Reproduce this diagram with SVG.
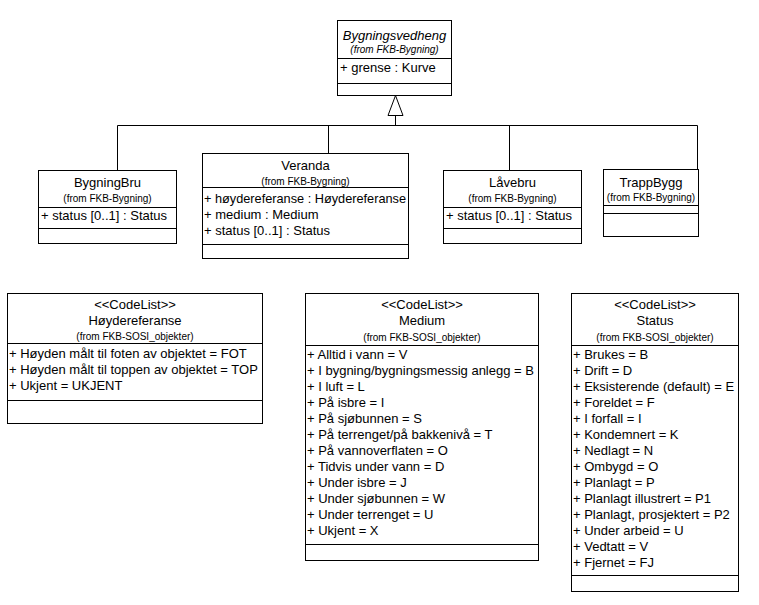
<svg xmlns="http://www.w3.org/2000/svg" width="759" height="605" viewBox="0 0 759 605">
<style>
.box{fill:#fff;stroke:#000;stroke-width:1}
.ln{stroke:#000;stroke-width:1;fill:none}
text{font-family:"Liberation Sans",Arial,sans-serif;font-size:13px;fill:#000}
.c{text-anchor:middle}
.s{font-size:10px}
.i{font-style:italic}
</style>
<rect width="759" height="605" fill="#fff"/>
<g id="connectors">
<polyline class="ln" points="117.5,170 117.5,125.5 697.5,125.5 697.5,169"/>
<line class="ln" x1="328.5" y1="125.5" x2="328.5" y2="153"/>
<line class="ln" x1="509.5" y1="125.5" x2="509.5" y2="170"/>
<line class="ln" x1="395.5" y1="125.5" x2="395.5" y2="115"/>
<polygon class="box" points="395.5,95.5 388,115.5 403,115.5"/>
</g>
<g id="Bygningsvedheng">
<rect class="box" x="337.5" y="20.5" width="114" height="75"/>
<line class="ln" x1="337.5" y1="58.5" x2="451.5" y2="58.5"/>
<line class="ln" x1="337.5" y1="83.5" x2="451.5" y2="83.5"/>
<text class="c i" x="394.5" y="40">Bygningsvedheng</text>
<text class="c i s" x="394.5" y="53">(from FKB-Bygning)</text>
<text x="340" y="72">+ grense : Kurve</text>
</g>
<g id="BygningBru">
<rect class="box" x="38.5" y="170.5" width="138" height="73"/>
<line class="ln" x1="38.5" y1="207.5" x2="176.5" y2="207.5"/>
<line class="ln" x1="38.5" y1="228.5" x2="176.5" y2="228.5"/>
<text class="c" x="107.5" y="187">BygningBru</text>
<text class="c s" x="107.5" y="202">(from FKB-Bygning)</text>
<text x="41" y="220">+ status [0..1] : Status</text>
</g>
<g id="Veranda">
<rect class="box" x="202.5" y="153.5" width="206" height="105"/>
<line class="ln" x1="202.5" y1="187.5" x2="408.5" y2="187.5"/>
<line class="ln" x1="202.5" y1="244.5" x2="408.5" y2="244.5"/>
<text class="c" x="305.5" y="170">Veranda</text>
<text class="c s" x="305.5" y="185">(from FKB-Bygning)</text>
<text x="204" y="203" textLength="202" lengthAdjust="spacingAndGlyphs">+ høydereferanse : Høydereferanse</text>
<text x="204" y="219">+ medium : Medium</text>
<text x="204" y="235">+ status [0..1] : Status</text>
</g>
<g id="Låvebru">
<rect class="box" x="443.5" y="170.5" width="138" height="73"/>
<line class="ln" x1="443.5" y1="207.5" x2="581.5" y2="207.5"/>
<line class="ln" x1="443.5" y1="228.5" x2="581.5" y2="228.5"/>
<text class="c" x="512.5" y="187">Låvebru</text>
<text class="c s" x="512.5" y="202">(from FKB-Bygning)</text>
<text x="446" y="220">+ status [0..1] : Status</text>
</g>
<g id="TrappBygg">
<rect class="box" x="603.5" y="169.5" width="95" height="67"/>
<line class="ln" x1="603.5" y1="205.5" x2="698.5" y2="205.5"/>
<line class="ln" x1="603.5" y1="213.5" x2="698.5" y2="213.5"/>
<text class="c" x="651" y="187">TrappBygg</text>
<text class="c s" x="651" y="201">(from FKB-Bygning)</text>
</g>
<g id="Høydereferanse">
<rect class="box" x="7.5" y="293.5" width="255" height="130"/>
<line class="ln" x1="7.5" y1="343.5" x2="262.5" y2="343.5"/>
<line class="ln" x1="7.5" y1="400.5" x2="262.5" y2="400.5"/>
<text class="c" x="135" y="309">&lt;&lt;CodeList&gt;&gt;</text>
<text class="c" x="135" y="325">Høydereferanse</text>
<text class="c s" x="135" y="340">(from FKB-SOSI_objekter)</text>
<text x="9" y="358">+ Høyden målt til foten av objektet = FOT</text>
<text x="9" y="374">+ Høyden målt til toppen av objektet = TOP</text>
<text x="9" y="390">+ Ukjent = UKJENT</text>
</g>
<g id="Medium">
<rect class="box" x="305.5" y="293.5" width="233" height="267"/>
<line class="ln" x1="305.5" y1="345.5" x2="538.5" y2="345.5"/>
<line class="ln" x1="305.5" y1="544.5" x2="538.5" y2="544.5"/>
<text class="c" x="422" y="309">&lt;&lt;CodeList&gt;&gt;</text>
<text class="c" x="422" y="325">Medium</text>
<text class="c s" x="422" y="341">(from FKB-SOSI_objekter)</text>
<text x="307" y="359">+ Alltid i vann = V</text>
<text x="307" y="375">+ I bygning/bygningsmessig anlegg = B</text>
<text x="307" y="391">+ I luft = L</text>
<text x="307" y="407">+ På isbre = I</text>
<text x="307" y="423">+ På sjøbunnen = S</text>
<text x="307" y="439">+ På terrenget/på bakkenivå = T</text>
<text x="307" y="455">+ På vannoverflaten = O</text>
<text x="307" y="471">+ Tidvis under vann = D</text>
<text x="307" y="487">+ Under isbre = J</text>
<text x="307" y="503">+ Under sjøbunnen = W</text>
<text x="307" y="519">+ Under terrenget = U</text>
<text x="307" y="535">+ Ukjent = X</text>
</g>
<g id="Status">
<rect class="box" x="571.5" y="293.5" width="167" height="298"/>
<line class="ln" x1="571.5" y1="345.5" x2="738.5" y2="345.5"/>
<line class="ln" x1="571.5" y1="575.5" x2="738.5" y2="575.5"/>
<text class="c" x="655" y="309">&lt;&lt;CodeList&gt;&gt;</text>
<text class="c" x="655" y="325">Status</text>
<text class="c s" x="655" y="341">(from FKB-SOSI_objekter)</text>
<text x="573" y="359">+ Brukes = B</text>
<text x="573" y="375">+ Drift = D</text>
<text x="573" y="391">+ Eksisterende (default) = E</text>
<text x="573" y="407">+ Foreldet = F</text>
<text x="573" y="423">+ I forfall = I</text>
<text x="573" y="439">+ Kondemnert = K</text>
<text x="573" y="455">+ Nedlagt = N</text>
<text x="573" y="471">+ Ombygd = O</text>
<text x="573" y="487">+ Planlagt = P</text>
<text x="573" y="503">+ Planlagt illustrert = P1</text>
<text x="573" y="519">+ Planlagt, prosjektert = P2</text>
<text x="573" y="535">+ Under arbeid = U</text>
<text x="573" y="551">+ Vedtatt = V</text>
<text x="573" y="567">+ Fjernet = FJ</text>
</g>
</svg>
